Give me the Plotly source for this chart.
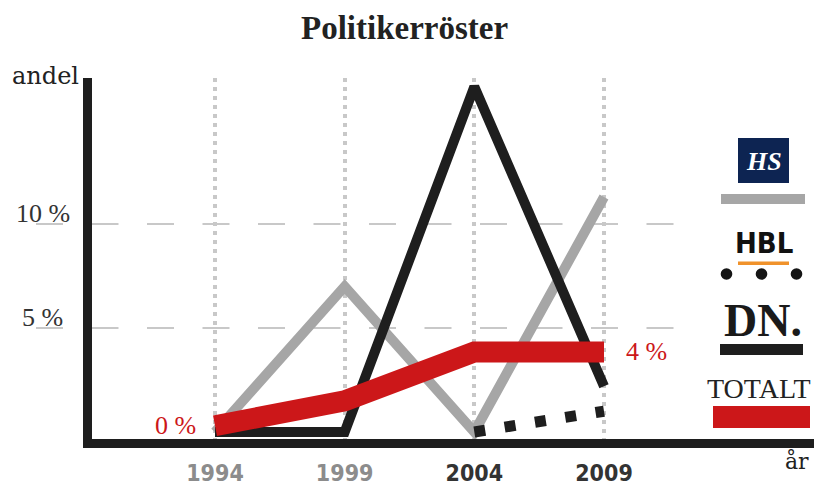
import plotly.graph_objects as go

# ---------------- data ----------------
years = [1994, 1999, 2004, 2009]
year_labels = ["1994", "1999", "2004", "2009"]
year_label_colors = ["#8c8c8c", "#8c8c8c", "#333333", "#333333"]

hs_values = [0.0, 7.0, 0.0, 11.3]          # HS (grey)
dn_values = [0.0, 0.0, 16.6, 2.2]          # DN (black)
hbl_years = [2004, 2009]
hbl_values = [0.0, 1.0]                    # HBL (dotted)
total_values = [0.3, 1.5, 3.85, 3.85]      # TOTALT (red)
total_labels = ["0 %", "4 %"]

y_ticks = [5, 10]
y_tick_labels = ["5 %", "10 %"]

title_text = "Politikerröster"
y_title = "andel"
x_title = "år"

# ---------------- layout geometry (pixels) ----------------
W, H = 814, 486
L, R, T, B = 92, 0, 78, 47
PW, PH = W - L - R, H - T - B


def px(xp):
    return (xp - L) / PW


def py(yp):
    return (H - B - yp) / PH


GREY = "#a6a6a6"
BLACK = "#1e1e1e"
RED = "#cc1719"
SERIF = "Liberation Serif, Times New Roman, serif"
NARROW = "DejaVu Sans Condensed, Liberation Sans Narrow, sans-serif"

fig = go.Figure()

fig.add_trace(go.Scatter(x=years, y=hs_values, mode="lines",
                         line=dict(color=GREY, width=10), hoverinfo="skip"))
fig.add_trace(go.Scatter(x=years, y=dn_values, mode="lines",
                         line=dict(color=BLACK, width=10), hoverinfo="skip"))
fig.add_trace(go.Scatter(x=hbl_years, y=hbl_values, mode="lines",
                         line=dict(color=BLACK, width=11, dash="11px,19.7px"),
                         hoverinfo="skip"))
fig.add_trace(go.Scatter(x=years, y=total_values, mode="lines",
                         line=dict(color=RED, width=21), hoverinfo="skip"))

shapes = []
annotations = []

# horizontal dashed grid lines (extend left under the labels)
for v in y_ticks:
    shapes.append(dict(type="line", xref="paper", yref="y",
                       x0=px(36), x1=px(676), y0=v, y1=v,
                       line=dict(color="#c8c8c8", width=2, dash="27px,28.5px"),
                       layer="below"))

# y tick labels
for v, t in zip(y_ticks, y_tick_labels):
    annotations.append(dict(xref="paper", yref="y", x=px(42.5), y=v, text=t,
                            showarrow=False, xanchor="center", yanchor="middle",
                            yshift=11,
                            font=dict(family=SERIF, size=26, color="#333333")))

# end labels of TOTALT
annotations.append(dict(x=years[0], y=total_values[0], text=total_labels[0],
                        showarrow=False, xanchor="right", yanchor="middle",
                        xshift=-17, yshift=0,
                        font=dict(family=SERIF, size=26, color=RED)))
annotations.append(dict(x=years[-1], y=total_values[-1], text=total_labels[1],
                        showarrow=False, xanchor="left", yanchor="middle",
                        xshift=20, yshift=0,
                        font=dict(family=SERIF, size=26, color=RED)))

# title and axis titles
annotations.append(dict(xref="paper", yref="paper", x=px(404), y=py(28),
                        text="<b>" + title_text + "</b>", showarrow=False,
                        xanchor="center", yanchor="middle",
                        font=dict(family=SERIF, size=33, color="#222222")))
annotations.append(dict(xref="paper", yref="paper", x=px(45), y=py(76),
                        text=y_title, showarrow=False,
                        xanchor="center", yanchor="middle",
                        font=dict(family="DejaVu Serif, serif", size=24,
                                  color="#222222")))
annotations.append(dict(xref="paper", yref="paper", x=px(797), y=py(461),
                        text=x_title, showarrow=False,
                        xanchor="center", yanchor="middle",
                        font=dict(family="DejaVu Serif, serif", size=22,
                                  color="#222222")))

# ---------------- legend (logos) ----------------
# HS
shapes.append(dict(type="rect", xref="paper", yref="paper",
                   x0=px(738), x1=px(789), y0=py(183), y1=py(138),
                   fillcolor="#0d2452", line=dict(width=0)))
annotations.append(dict(xref="paper", yref="paper", x=px(763.5), y=py(161),
                        text="<b><i>HS</i></b>", showarrow=False,
                        xanchor="center", yanchor="middle",
                        font=dict(family=SERIF, size=26, color="white")))
shapes.append(dict(type="rect", xref="paper", yref="paper",
                   x0=px(721), x1=px(805), y0=py(204), y1=py(194),
                   fillcolor=GREY, line=dict(width=0)))
# HBL
annotations.append(dict(xref="paper", yref="paper", x=px(763.5), y=py(243),
                        text="<b>HBL</b>", showarrow=False,
                        xanchor="center", yanchor="middle",
                        font=dict(family=NARROW, size=29, color="#111111")))
shapes.append(dict(type="rect", xref="paper", yref="paper",
                   x0=px(738), x1=px(789), y0=py(265), y1=py(261.5),
                   fillcolor="#f0922b", line=dict(width=0)))
for cx in (726.5, 761.5, 796.5):
    shapes.append(dict(type="circle", xref="paper", yref="paper",
                       x0=px(cx - 5.8), x1=px(cx + 5.8),
                       y0=py(274 + 5.8), y1=py(274 - 5.8),
                       fillcolor="#151515", line=dict(width=0)))
# DN
annotations.append(dict(xref="paper", yref="paper", x=px(763), y=py(320),
                        text="<b>DN.</b>", showarrow=False,
                        xanchor="center", yanchor="middle",
                        font=dict(family=SERIF, size=46, color="#1a1a1a")))
shapes.append(dict(type="rect", xref="paper", yref="paper",
                   x0=px(720), x1=px(803), y0=py(355), y1=py(344),
                   fillcolor=BLACK, line=dict(width=0)))
# TOTALT
annotations.append(dict(xref="paper", yref="paper", x=px(759), y=py(388),
                        text="TOTALT", showarrow=False,
                        xanchor="center", yanchor="middle",
                        font=dict(family=SERIF, size=28, color="#222222")))
shapes.append(dict(type="rect", xref="paper", yref="paper",
                   x0=px(713), x1=px(810), y0=py(428), y1=py(406),
                   fillcolor=RED, line=dict(width=0)))

ticktext = ["<span style='color:%s'><b>%s</b></span>" % (c, t)
            for t, c in zip(year_labels, year_label_colors)]

px_per_year = (604 - 215) / 15.0
x0_year = 1994 - (215 - L) / px_per_year
x1_year = 1994 + (W - R - 215) / px_per_year
px_per_pct = 20.8
y0_val = (432 - (H - B)) / px_per_pct
y1_val = (432 - T) / px_per_pct

fig.update_layout(
    width=W, height=H, autosize=False,
    margin=dict(l=L, r=R, t=T, b=B, pad=0, autoexpand=False),
    paper_bgcolor="white", plot_bgcolor="white",
    showlegend=False,
    shapes=shapes, annotations=annotations,
    xaxis=dict(range=[x0_year, x1_year], tickvals=years, ticktext=ticktext,
               automargin=False,
               showgrid=True, gridcolor="#c8c8c8", gridwidth=4,
               griddash="4px,5px", zeroline=False,
               showline=True, linecolor=BLACK, linewidth=9,
               ticks="", ticklabelstandoff=5,
               tickfont=dict(family=NARROW, size=23, color="#333333"),
               fixedrange=True),
    yaxis=dict(range=[y0_val, y1_val], showgrid=False, zeroline=False,
               automargin=False,
               showticklabels=False, ticks="",
               showline=True, linecolor=BLACK, linewidth=9,
               fixedrange=True),
)

fig.write_html("out.html", config={"displayModeBar": False},
               post_script="document.body.style.margin='0';"
                           "document.body.style.padding='0';")
